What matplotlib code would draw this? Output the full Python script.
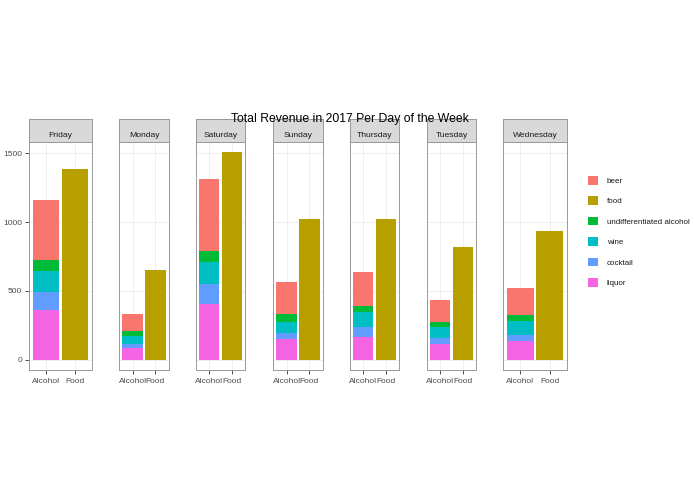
import numpy as np
import matplotlib.pyplot as plt
from matplotlib.patches import Patch

plt.rcParams['font.family'] = ['Liberation Sans', 'DejaVu Sans']

# Revenue per day
days = ['Friday', 'Monday', 'Saturday', 'Sunday', 'Thursday', 'Tuesday', 'Wednesday']
liquor = [362, 87, 405, 147, 166, 113, 135]
cocktail = [130, 26, 145, 46, 68, 41, 46]
wine = [152, 61, 159, 82, 111, 83, 101]
undiff = [79, 31, 85, 56, 46, 36, 44]
beer = [442, 128, 521, 231, 243, 161, 193]
food = [1385, 649, 1508, 1025, 1020, 822, 933]

x_labels = ['Alcohol', 'Food']
legend_names = ['beer', 'food', 'undifferentiated alcohol', 'wine', 'cocktail', 'liquor']
colors = {'beer': '#F8766D', 'food': '#B79F00', 'undifferentiated alcohol': '#00BA38',
          'wine': '#00BFC4', 'cocktail': '#619CFF', 'liquor': '#F564E3'}

# alcohol stack, bottom to top
stack = [('liquor', liquor), ('cocktail', cocktail), ('wine', wine),
         ('undifferentiated alcohol', undiff), ('beer', beer)]

W, H = 695, 494
fig = plt.figure(figsize=(W / 100, H / 100), dpi=100)

# panel left edges / widths in pixels
panel_x = [29, 119, 196, 273, 350, 427, 503]
panel_w = [63, 50, 49, 50, 49, 49, 64]
panel_top, panel_bot, strip_h = 142, 370, 23

ymax = max(food)
ylim = (-0.05 * ymax, ymax * 1.05)
fs = 6.0
border = '#999999'

for i, day in enumerate(days):
    ax = fig.add_axes([panel_x[i] / W, (H - panel_bot) / H, panel_w[i] / W, (panel_bot - panel_top) / H])
    bottom = 0
    for name, vals in stack:
        ax.bar(1, vals[i], bottom=bottom, width=0.9, color=colors[name], linewidth=0)
        bottom += vals[i]
    ax.bar(2, food[i], width=0.9, color=colors['food'], linewidth=0)

    ax.set_xlim(0.4, 2.6)
    ax.set_ylim(*ylim)
    ax.set_xticks([1, 2])
    ax.set_xticklabels(x_labels)
    ax.set_yticks([0, 500, 1000, 1500])
    ax.grid(True, color='#EBEBEB', linewidth=0.6)
    ax.set_axisbelow(True)
    for sp in ax.spines.values():
        sp.set_color(border)
        sp.set_linewidth(0.7)
    ax.tick_params(axis='x', length=3, width=0.6, color='#333333', labelsize=fs,
                   labelcolor='#4D4D4D', pad=3)
    if i == 0:
        ax.tick_params(axis='y', length=3, width=0.6, color='#333333', labelsize=fs,
                       labelcolor='#4D4D4D', pad=2)
    else:
        ax.tick_params(axis='y', length=0, labelleft=False)

    st = fig.add_axes([panel_x[i] / W, (H - panel_top) / H, panel_w[i] / W, strip_h / H])
    st.set_facecolor('#D9D9D9')
    st.set_xticks([])
    st.set_yticks([])
    for sp in st.spines.values():
        sp.set_color(border)
        sp.set_linewidth(0.7)
    st.text(0.5, 0.28, day, ha='center', va='center', fontsize=6.1, color='#1A1A1A',
            transform=st.transAxes)

fig.text(350 / W, (H - 119) / H, 'Total Revenue in 2017 Per Day of the Week',
         ha='center', va='center', fontsize=8.8, color='black')

handles = [Patch(facecolor=colors[n], edgecolor='none') for n in legend_names]
fig.legend(handles, legend_names, loc='upper left', bbox_to_anchor=(588 / W, (H - 176) / H),
           frameon=False, fontsize=5.8, handlelength=1.25, handleheight=1.25,
           labelspacing=1.42, handletextpad=1.1, borderaxespad=0, borderpad=0,
           labelcolor='#1A1A1A')

fig.savefig('out.png', dpi=100)
